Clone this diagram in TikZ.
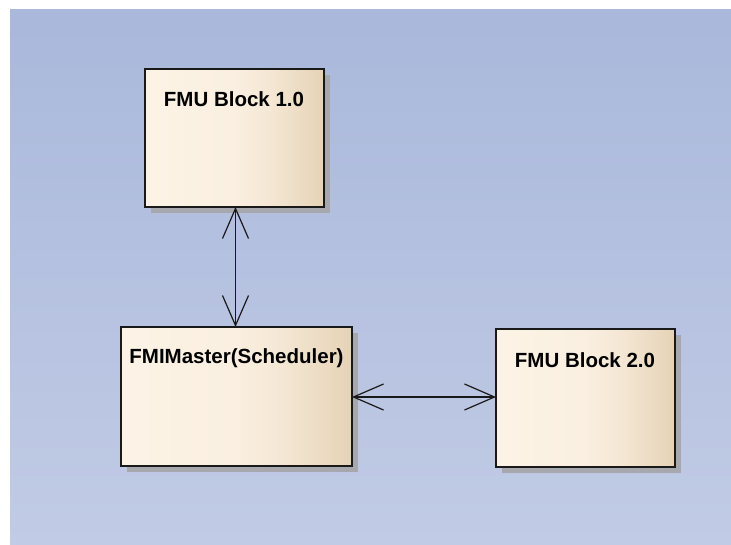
\documentclass[tikz,border=0pt]{standalone}
\usepackage{fontspec}
\setmainfont{Liberation Sans}
\usetikzlibrary{arrows.meta}
\definecolor{bgtop}{HTML}{A9B8DB}
\definecolor{bgbot}{HTML}{C1CBE5}
\definecolor{boxA}{HTML}{FCF3E6}
\definecolor{boxB}{HTML}{FAEFE0}
\definecolor{boxC}{HTML}{E6D3B6}
\definecolor{shadowc}{HTML}{A6A8AE}
\pgfdeclarehorizontalshading{boxshade}{100bp}{color(0bp)=(boxA); color(25bp)=(boxA); color(50bp)=(boxB); color(60bp)=(boxB!70!boxC); color(75bp)=(boxC); color(100bp)=(boxC)}
\tikzset{
  blk/.style={draw=black!90, line width=1.5pt, shading=boxshade},
  shd/.style={fill=shadowc, draw=none},
  lbl/.style={font=\bfseries\fontsize{20.5}{23}\selectfont, text=black, inner sep=0pt, anchor=center},
  conn/.style={line width=1.2pt, draw=black!90, {Straight Barb[length=30pt,width=26pt,line width=1.2pt]}-{Straight Barb[length=30pt,width=26pt,line width=1.2pt]}}
}
\begin{document}
\begin{tikzpicture}[x=1pt,y=-1pt]
\useasboundingbox (0,0) rectangle (731,545);
\fill[white] (0,0) rectangle (731,545);
\shade[top color=bgtop, bottom color=bgbot] (10,10) rectangle (731,545);
% shadows
\fill[shd] (151,75) rectangle (330,213);
\fill[shd] (127,333) rectangle (358,472);
\fill[shd] (502,335) rectangle (681,473);
% boxes
\path[blk] (145,69) rectangle (324,207);
\path[blk] (121,327) rectangle (352,466);
\path[blk] (496,329) rectangle (675,467);
\coordinate (b1) at (235.5,207);
\coordinate (b2t) at (235.5,327);
\coordinate (b2r) at (352,397);
\coordinate (b3l) at (496,397);
\node[lbl] (t1) at (234,99) {FMU Block 1.0};
\node[lbl] (t2) at (236.5,358) {FMIMaster(Scheduler)};
\node[lbl] (t3) at (585,360) {FMU Block 2.0};
\draw[conn] (b1) -- (b2t);
\draw[conn] (b2r) -- (b3l);
\end{tikzpicture}
\end{document}
